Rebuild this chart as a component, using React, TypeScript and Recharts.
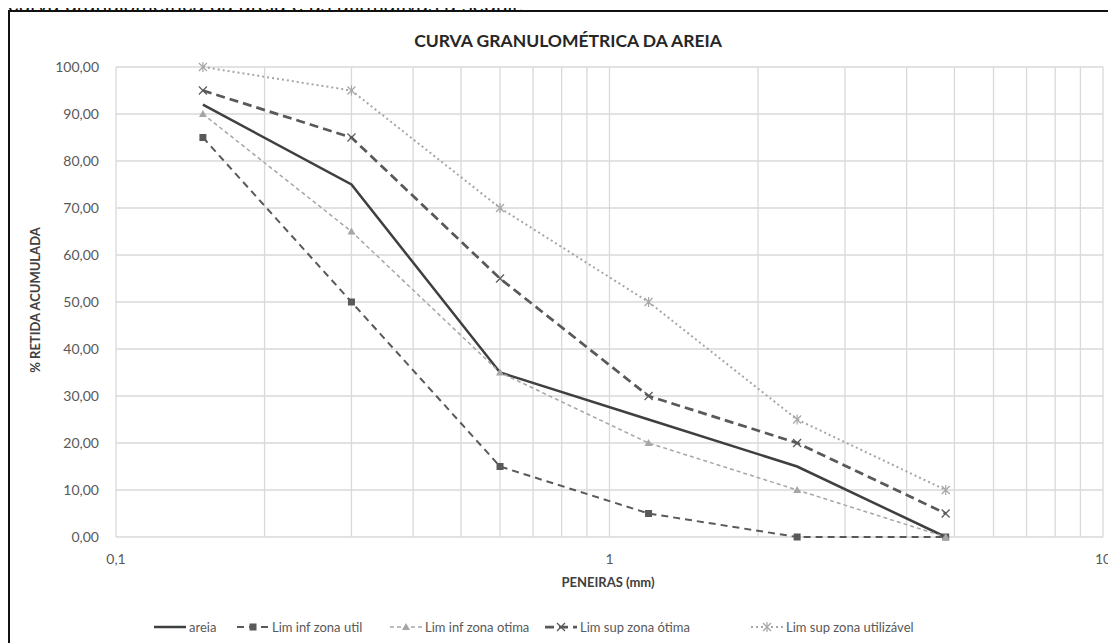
import React from "react";
import { CartesianGrid, Line, LineChart, XAxis, YAxis } from "recharts";

// aberturas das peneiras (mm)
const PENEIRAS = [0.15, 0.3, 0.6, 1.2, 2.4, 4.8];

// % retida acumulada
const AREIA = [92, 75, 35, 25, 15, 0];
const LIM_INF_UTIL = [85, 50, 15, 5, 0, 0];
const LIM_INF_OTIMA = [90, 65, 35, 20, 10, 0];
const LIM_SUP_OTIMA = [95, 85, 55, 30, 20, 5];
const LIM_SUP_UTILIZAVEL = [100, 95, 70, 50, 25, 10];

const X_TICKS = [0.1, 0.2, 0.3, 0.4, 0.5, 0.6, 0.7, 0.8, 0.9, 1, 2, 3, 4, 5, 6, 7, 8, 9, 10];
const X_LABELS = [0.1, 1, 10];
const Y_TICKS = [0, 10, 20, 30, 40, 50, 60, 70, 80, 90, 100];

const data = PENEIRAS.map((p, i) => ({
  p,
  areia: AREIA[i],
  infUtil: LIM_INF_UTIL[i],
  infOtima: LIM_INF_OTIMA[i],
  supOtima: LIM_SUP_OTIMA[i],
  supUtil: LIM_SUP_UTILIZAVEL[i],
}));

const FONT = "Lato, 'Open Sans', sans-serif";
const GRID = "#d9d9d9";
const DARK = "#595959";
const LIGHT = "#a6a6a6";

const fmtY = (v: number) => v.toFixed(2).replace(".", ",");
const fmtX = (v: number) => (X_LABELS.includes(v) ? String(v).replace(".", ",") : "");

type Marker = "none" | "square" | "triangle" | "x" | "star";

function MarkerShape({ kind, cx, cy, color }: { kind: Marker; cx: number; cy: number; color: string }) {
  if (kind === "square") return <rect x={cx - 3.5} y={cy - 3.5} width={7} height={7} fill={color} />;
  if (kind === "triangle")
    return <polygon points={`${cx},${cy - 4} ${cx + 4},${cy + 3} ${cx - 4},${cy + 3}`} fill={color} />;
  if (kind === "x")
    return (
      <g stroke={color} strokeWidth={1.2}>
        <line x1={cx - 4} y1={cy - 4} x2={cx + 4} y2={cy + 4} />
        <line x1={cx - 4} y1={cy + 4} x2={cx + 4} y2={cy - 4} />
      </g>
    );
  if (kind === "star")
    return (
      <g stroke={color} strokeWidth={1.2}>
        <line x1={cx - 4} y1={cy - 4} x2={cx + 4} y2={cy + 4} />
        <line x1={cx - 4} y1={cy + 4} x2={cx + 4} y2={cy - 4} />
        <line x1={cx} y1={cy - 5} x2={cx} y2={cy + 5} />
      </g>
    );
  return null;
}

const SERIES: { key: string; name: string; color: string; width: number; dash?: string; marker: Marker }[] = [
  { key: "areia", name: "areia", color: "#3f3f3f", width: 2.5, marker: "none" },
  { key: "infUtil", name: "Lim inf zona util", color: DARK, width: 2, dash: "7 5", marker: "square" },
  { key: "infOtima", name: "Lim inf zona otima", color: LIGHT, width: 1.5, dash: "4 3", marker: "triangle" },
  { key: "supOtima", name: "Lim sup zona ótima", color: DARK, width: 2.75, dash: "9 5", marker: "x" },
  { key: "supUtil", name: "Lim sup zona utilizável", color: LIGHT, width: 2, dash: "2 3", marker: "star" },
];

const LEGEND_LEFT = [145, 228, 381, 536, 742];

function LegendSwatch({ s }: { s: (typeof SERIES)[number] }) {
  return (
    <svg width={34} height={12} style={{ verticalAlign: "middle" }}>
      <line x1={1} y1={6} x2={33} y2={6} stroke={s.color} strokeWidth={s.width} strokeDasharray={s.dash} />
      <MarkerShape kind={s.marker} cx={17} cy={6} color={s.color} />
    </svg>
  );
}

export default function App() {
  return (
    <div style={{ position: "relative", width: 1108, height: 635, overflow: "hidden", fontFamily: FONT }}>
      <div
        style={{
          position: "absolute",
          left: 0,
          top: -15,
          fontFamily: "'Liberation Sans', Arial, sans-serif",
          fontSize: 21,
          color: "#111",
          whiteSpace: "nowrap",
        }}
      >
        curva granulométrica da areia e as afirmativas a seguir.
      </div>
      <div
        style={{
          position: "absolute",
          left: 0,
          top: 2,
          width: 1130,
          height: 700,
          border: "2px solid #111",
          boxSizing: "border-box",
          background: "#fff",
        }}
      />
      <div
        style={{
          position: "absolute",
          left: 560,
          top: 32,
          transform: "translate(-50%, -50%)",
          fontWeight: 700,
          fontSize: 17.5,
          color: "#262626",
          whiteSpace: "nowrap",
        }}
      >
        CURVA GRANULOMÉTRICA DA AREIA
      </div>
      <div
        style={{
          position: "absolute",
          left: 27,
          top: 292,
          transform: "translate(-50%, -50%) rotate(-90deg)",
          fontWeight: 700,
          fontSize: 13,
          color: "#404040",
          whiteSpace: "nowrap",
        }}
      >
        % RETIDA ACUMULADA
      </div>
      <div
        style={{
          position: "absolute",
          left: 600,
          top: 574,
          transform: "translate(-50%, -50%)",
          fontWeight: 700,
          fontSize: 13,
          color: "#404040",
          whiteSpace: "nowrap",
        }}
      >
        PENEIRAS (mm)
      </div>
      <div style={{ position: "absolute", left: 0, top: 2 }}>
        <LineChart width={1108} height={600} data={data} margin={{ top: 57, right: 13, bottom: 43, left: 0 }}>
          <CartesianGrid stroke={GRID} strokeWidth={1.3} />
          <XAxis
            dataKey="p"
            type="number"
            scale="log"
            domain={[0.1, 10]}
            ticks={X_TICKS}
            interval={0}
            tickFormatter={fmtX}
            height={30}
            axisLine={false}
            tickLine={false}
            tickSize={0}
            tickMargin={17}
            tick={{ fill: DARK, fontSize: 14, fontFamily: FONT }}
            allowDataOverflow
          />
          <YAxis
            type="number"
            domain={[0, 100]}
            ticks={Y_TICKS}
            tickFormatter={fmtY}
            width={108}
            axisLine={false}
            tickLine={false}
            tickSize={0}
            tickMargin={17}
            tick={{ fill: DARK, fontSize: 14, fontFamily: FONT }}
          />
          {SERIES.map((s) => (
            <Line
              key={s.key}
              dataKey={s.key}
              name={s.name}
              type="linear"
              stroke={s.color}
              strokeWidth={s.width}
              strokeDasharray={s.dash}
              isAnimationActive={false}
              activeDot={false}
              dot={(p: any) => <MarkerShape key={`${s.key}-${p.index}`} kind={s.marker} cx={p.cx} cy={p.cy} color={s.color} />}
            />
          ))}
        </LineChart>
      </div>
      {SERIES.map((s, i) => (
        <div
          key={s.key}
          style={{
            position: "absolute",
            left: LEGEND_LEFT[i],
            top: 611,
            fontSize: 13,
            color: DARK,
            whiteSpace: "nowrap",
            display: "flex",
            alignItems: "center",
            gap: 2,
          }}
        >
          <LegendSwatch s={s} />
          <span>{s.name}</span>
        </div>
      ))}
    </div>
  );
}
